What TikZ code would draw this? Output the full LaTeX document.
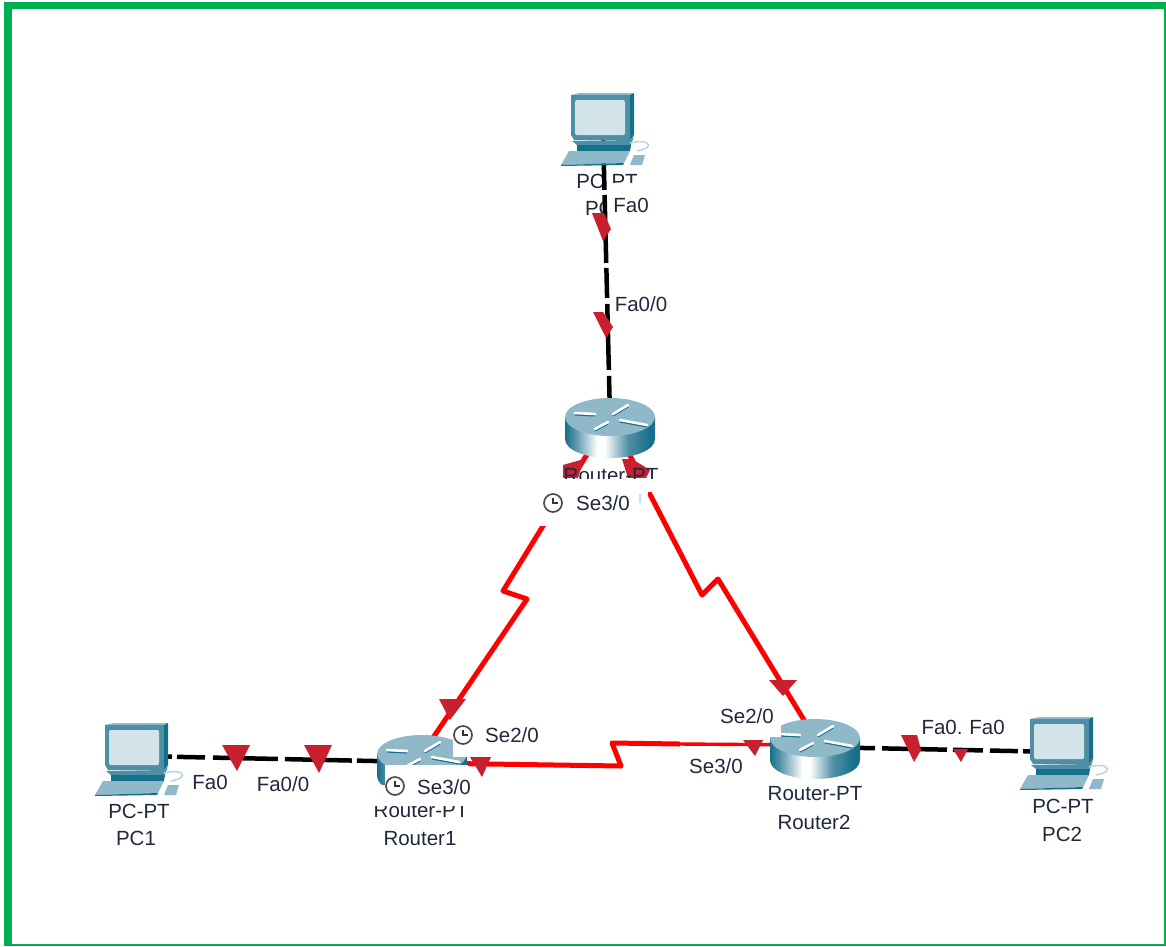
\documentclass[tikz,border=0pt]{standalone}
\usepackage{fontspec}
\setmainfont{Liberation Sans}
\usetikzlibrary{calc}
\definecolor{framegreen}{HTML}{00B050}
\definecolor{tealA}{HTML}{4F8FA5}
\definecolor{tealB}{HTML}{15708A}
\definecolor{tealC}{HTML}{8FB8C8}
\definecolor{screenc}{HTML}{D3E3EA}
\definecolor{tipred}{HTML}{C8202F}
\definecolor{linkred}{HTML}{FF0000}
\definecolor{labelc}{HTML}{20283C}
\pgfdeclarehorizontalshading{rbody}{100bp}{color(0bp)=(tealB);color(25bp)=(tealB);color(30bp)=(tealA);color(43bp)=(white);color(47bp)=(white);color(60bp)=(tealA);color(72bp)=(tealB);color(75bp)=(tealB);color(100bp)=(tealB)}
\tikzset{
  x=1pt,y=-1pt,
  anchorpt/.style={inner sep=0pt,minimum size=0pt,outer sep=0pt},
  lbl/.style={font=\fontsize{20.5}{24}\selectfont,text=labelc,inner sep=0pt},
  patch/.style={fill=white,draw=none},
  serial/.style={draw=linkred,line width=5pt,line join=round},
  ether/.style={draw=black,line width=4.5pt},
  tip/.style={fill=tipred,draw=none},
  pc/.pic={
    \fill[tealC] (0,2) -- (9,0) -- (63,0) -- (59,2) -- cycle;
    \fill[tealA] (0,2) -- (59,2) -- (59,47) -- (3,47) -- (0,42) -- cycle;
    \fill[tealB] (59,2) -- (63,0) -- (63,42) -- (59,47) -- cycle;
    \fill[screenc,rounded corners=2pt] (4,7) rectangle (54,42);
    \fill[tealA] (1,48) -- (59,47) -- (63,43) -- (60,52) -- (6,52) -- cycle;
    \fill[tealB] (6,52) -- (60,52) -- (59,58) -- (6,58) -- cycle;
    \fill[tealC] (-2,58) -- (59,58) -- (53,70) -- (-10,72) -- cycle;
    \fill[tealB] (-10,72) -- (53,70) -- (52,72) -- (-10,73) -- cycle;
    \fill[tealC] (63,62) -- (74,62) -- (71,72) -- (59,72) -- cycle;
    \draw[tealC!60,line width=1.5pt] (59,50) .. controls (66,48) and (74,48) .. (76,50) .. controls (80,53) and (76,56) .. (66,58);
  },
  routerpic/.pic={
    \shade[shading=rbody] (-45,0) -- (-45,22) .. controls (-45,33) and (-25,41) .. (0,41) .. controls (25,41) and (45,33) .. (45,22) -- (45,0) -- cycle;
    \fill[tealC] (0,0) ellipse[x radius=45,y radius=19];
    \foreach \a/\b/\c/\d in {-35/-4/-15/-3,-15/12/-2/5,3/-3/18/-12,10/3/37/8}{
      \draw[tealB,line width=1.5pt] (\a,\b+1.8) -- (\c,\d+1.8);
      \draw[white,line width=2.6pt,line cap=round] (\a,\b) -- (\c,\d);
    }
  },
  clockpic/.pic={
    \draw[black!70,line width=1.7pt,fill=white] (0,0) circle[radius=9];
    \draw[black!80,line width=1.4pt] (0,-5.5) -- (0,0) -- (5,0);
  }
}
\begin{document}
\begin{tikzpicture}
\useasboundingbox (0,0) rectangle (1166,946);
% node positions
\node[anchorpt] (pc0) at (603,130) {};
\node[anchorpt] (pc1) at (137,756) {};
\node[anchorpt] (pc2) at (1062,752) {};
\node[anchorpt] (r0) at (610,417) {};
\node[anchorpt] (r1) at (422,754) {};
\node[anchorpt] (r2) at (815,738) {};
\coordinate (k01a) at (503,591);
\coordinate (k01b) at (527,599);
\coordinate (k02a) at (702,595);
\coordinate (k02b) at (718,579);
\coordinate (k12a) at (621,766);
\coordinate (k12b) at (612,743);
\coordinate (k12c) at (680,744);
% frame
\fill[framegreen] (4,2) rectangle (1166,946);
\fill[white] (12,9) rectangle (1164,944);
% clipped texts under the links
\begin{scope}
  \clip (560,165) rectangle (603,215);
  \node[lbl] (pc0model) at (607,181) {PC-PT};
  \node[lbl] (pc0name) at (605,208) {PC0};
\end{scope}
\begin{scope}
  \clip (612,165) rectangle (650,182);
  \node[lbl] at (607,181) {PC-PT};
\end{scope}
% Ethernet links
\draw[ether,dash pattern=on 60pt off 5pt on 68pt off 5pt on 30pt off 6pt on 66pt off 6pt on 100pt] (pc0) -- (r0);
\draw[ether,dash pattern=on 35pt off 5pt on 28pt off 8pt on 65pt off 7pt on 67pt off 5pt on 100pt] (pc1) -- ($(r1)+(0,8)$);
\draw[ether,dash pattern=on 60pt off 7pt on 65pt off 6pt on 30pt off 7pt on 28pt off 5pt on 60pt] ($(r2)+(0,9)$) -- (pc2);
% serial links
\path[serial] (r0) -- (k01a) -- (k01b) -- (r1);
\path[serial] (r0) -- (k02a) -- (k02b) -- (r2);
\path[serial] ($(r1)+(0,9)$) -- (k12a) -- (k12b) -- (k12c);
\path[serial,line width=3.4pt] (k12c) -- ($(r2)+(0,7)$);
% triangles
\fill[tip] (592,213) -- (604,213) -- (611,229) -- (603,241) -- cycle;
\fill[tip] (593,312) -- (603,312) -- (613,327) -- (606,338) -- cycle;
\fill[tip] (222,745) -- (250,745) -- (237,771) -- cycle;
\fill[tip] (304,745) -- (332,745) -- (319,773) -- cycle;
\fill[tip] (439,699) -- (466,699) -- (450,720) -- cycle;
\fill[tip] (769,680) -- (797,680) -- (783,696) -- cycle;
\fill[tip] (743,740) -- (763,740) -- (755,756) -- cycle;
\fill[tip] (901,735) -- (917,735) -- (921,750) -- (914,762) -- cycle;
\fill[tip] (953,749) -- (968,749) -- (961,762) -- cycle;
\fill[tip] (563,465) -- (584,459) -- (578,478) -- (563,478) -- cycle;
\fill[tip] (622,459) -- (632,459) -- (650,470) -- (646,478) -- (628,478) -- cycle;
% devices
\path (571,93) pic {pc};
\path (105,723) pic {pc};
\path (1030,717) pic {pc};
\path (r0) pic {routerpic};
\path (r1) pic {routerpic};
\path (r2) pic {routerpic};
% white label backgrounds that cover the devices and links
\fill[patch] (560,478) rectangle (660,492);
\fill[patch] (540,486) rectangle (648,526);
\fill[patch] (385,765) rectangle (468,822);
\fill[patch] (453,720) rectangle (545,757);
\fill[patch] (370,785) rectangle (468,806);
\fill[patch] (715,700) rectangle (781,737);
\fill[patch] (610,190) rectangle (655,213);
\fill[cyan!30] (639,494) rectangle (641,503);
\fill[tip] (470,757) -- (491,757) -- (482,777) -- cycle;
% labels
\begin{scope}
  \clip (540,462) rectangle (680,478.5);
  \node[lbl] (r0model) at (611,476) {Router-PT};
\end{scope}
\begin{scope}
  \clip (360,806) rectangle (490,822);
  \node[lbl] (r1model) at (421,811) {Router-PT};
\end{scope}
\node[lbl] (r1name) at (420,839) {Router1};
\node[lbl] (r2model) at (815,794) {Router-PT};
\node[lbl] (r2name) at (814,822) {Router2};
\node[lbl] (pc1model) at (139,811) {PC-PT};
\node[lbl] (pc1name) at (136,838) {PC1};
\node[lbl] (pc2model) at (1063,806) {PC-PT};
\node[lbl] (pc2name) at (1062,834) {PC2};
\node[lbl] (la) at (631,205) {Fa0};
\node[lbl] (lb) at (641,304) {Fa0/0};
\node[lbl] (lc) at (603,503) {Se3/0};
\node[lbl] (ld) at (210,782) {Fa0};
\node[lbl] (le) at (283,784) {Fa0/0};
\node[lbl] (lf) at (512,735) {Se2/0};
\node[lbl] (lg) at (444,787) {Se3/0};
\node[lbl] (lh) at (747,716) {Se2/0};
\node[lbl] (li) at (716,766) {Se3/0};
\node[lbl] (lj) at (942,727) {Fa0.};
\node[lbl] (lk) at (987,727) {Fa0};
% clocks
\path (553,503) pic {clockpic};
\path (463,735) pic {clockpic};
\path (395,786) pic {clockpic};
\end{tikzpicture}
\end{document}
